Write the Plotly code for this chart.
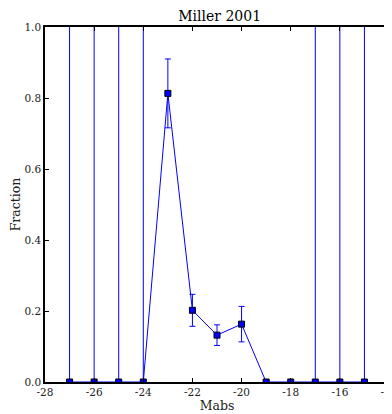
import plotly.graph_objects as go

mabs = [-27, -26, -25, -24, -23, -22, -21, -20, -19, -18, -17, -16, -15]
fraction = [0.0, 0.0, 0.0, 0.0, 0.813, 0.202, 0.132, 0.163, 0.0, 0.0, 0.0, 0.0, 0.0]
err = [1.5, 1.5, 1.5, 1.5, 0.097, 0.045, 0.029, 0.05, 0.0, 0.0, 1.5, 1.5, 1.5]
x_ticks = [-28, -26, -24, -22, -20, -18, -16, -14]
x_tick_labels = ["-28", "-26", "-24", "-22", "-20", "-18", "-16", "-14"]
y_ticks = [0.0, 0.2, 0.4, 0.6, 0.8, 1.0]
y_tick_labels = ["0.0", "0.2", "0.4", "0.6", "0.8", "1.0"]

font = "DejaVu Serif"

fig = go.Figure()
fig.add_trace(go.Scatter(
    x=mabs, y=fraction, mode="lines+markers",
    line=dict(color="#0000ff", width=1),
    marker=dict(symbol="square", size=6, color="#0000ff",
                line=dict(color="black", width=1)),
    error_y=dict(type="data", array=err, symmetric=True,
                 color="#0000ff", thickness=1, width=3),
    showlegend=False,
))

axis_common = dict(
    showgrid=False, zeroline=False, showline=True, linecolor="black",
    linewidth=1.5, mirror="ticks", ticks="inside", ticklen=4,
    tickcolor="black", tickwidth=1, automargin=False,
    tickfont=dict(family=font, size=10.5, color="#222"),
)
fig.update_xaxes(range=[-28, -14], tickvals=x_ticks, ticktext=x_tick_labels,
                 title=dict(text="Mabs", font=dict(family=font, size=12.5, color="#222"),
                            standoff=3),
                 **axis_common)
fig.update_yaxes(range=[0, 1], tickvals=y_ticks, ticktext=y_tick_labels,
                 title=dict(text="Fraction", font=dict(family=font, size=12.5, color="#222"),
                            standoff=3),
                 **axis_common)

fig.update_layout(
    width=392, height=414,
    margin=dict(l=37, r=11, t=19, b=40, autoexpand=False),
    plot_bgcolor="white", paper_bgcolor="white",
    title=dict(text="Miller 2001", x=0.54, xanchor="center", y=0.981, yanchor="middle",
               font=dict(family=font, size=14, color="black")),
)
fig.write_html("out.html")
